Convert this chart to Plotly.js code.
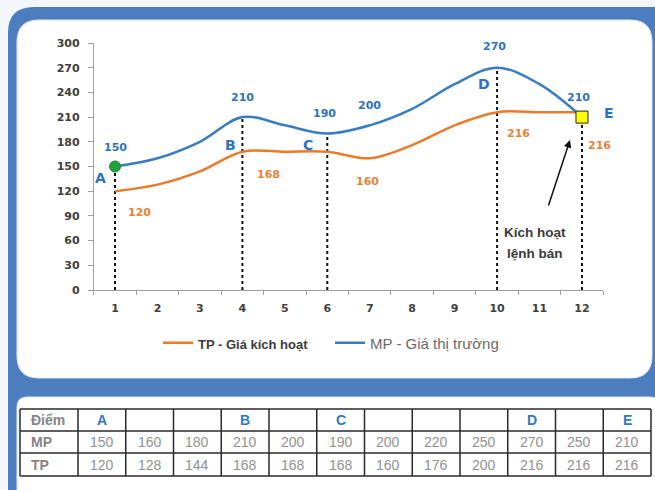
<!DOCTYPE html>
<html><head><meta charset="utf-8">
<script src="https://cdn.plot.ly/plotly-3.0.1.min.js"></script>
<style>html,body{margin:0;padding:0;background:#f3f7fb}#chart{width:655px;height:490px}</style>
</head><body><div id="chart"></div>
<script>
// ---- data ----
const periods = [1,2,3,4,5,6,7,8,9,10,11,12];
const mpValues = [150,160,180,210,200,190,200,220,250,270,250,210];
const tpValues = [120,128,144,168,168,168,160,176,200,216,216,216];
const pointLabels = ['A','','','B','','C','','','','D','','E'];
const yTickValues = [0,30,60,90,120,150,180,210,240,270,300];
const tpName = 'TP - Giá kích hoạt';
const mpName = 'MP - Giá thị trường';
const rowLabels = ['Điểm','MP','TP'];
const signalLines = ['Kích hoạt','lệnh bán'];

// ---- styling / layout helpers ----
const W = 655, H = 490;
const X = px => px / W;
const Y = py => 1 - py / H;
const BLUE = '#3a7cc2', ORANGE = '#ea7b2c', BLUE_TXT = '#2f72bd', ORANGE_TXT = '#e6843a';
const FONT = 'DejaVu Sans, sans-serif';
const SANS = 'Liberation Sans, Arial, sans-serif';

function rr(x0, y0, x1, y1, r) {
  return `M ${X(x0+r)},${Y(y0)} L ${X(x1-r)},${Y(y0)} Q ${X(x1)},${Y(y0)} ${X(x1)},${Y(y0+r)} ` +
    `L ${X(x1)},${Y(y1-r)} Q ${X(x1)},${Y(y1)} ${X(x1-r)},${Y(y1)} L ${X(x0+r)},${Y(y1)} ` +
    `Q ${X(x0)},${Y(y1)} ${X(x0)},${Y(y1-r)} L ${X(x0)},${Y(y0+r)} Q ${X(x0)},${Y(y0)} ${X(x0+r)},${Y(y0)} Z`;
}

// dotted verticals at labelled points
const vx = [], vy = [];
pointLabels.forEach((l, i) => { if (l) { vx.push(periods[i], periods[i], null); vy.push(0, mpValues[i], null); } });

const traces = [
  {x: vx, y: vy, mode: 'lines', line: {color: '#111', width: 2, dash: 'dot'}, showlegend: false, hoverinfo: 'skip'},
  {x: periods, y: tpValues,
   name: '<span style="font-family:Liberation Sans Narrow, Arial Narrow, sans-serif;font-size:13px;font-weight:bold;color:#3c3c3c">' + tpName + '</span>',
   mode: 'lines', line: {color: ORANGE, width: 2.5, shape: 'spline', smoothing: 1}},
  {x: periods, y: mpValues, name: mpName, mode: 'lines',
   line: {color: BLUE, width: 2.5, shape: 'spline', smoothing: 1}},
  {x: [periods[0]], y: [mpValues[0]], mode: 'markers', showlegend: false,
   marker: {color: '#23a040', size: 11, line: {color: '#1c8a35', width: 1}}},
  {x: [periods[11]], y: [mpValues[11]], mode: 'markers', showlegend: false,
   marker: {symbol: 'square', color: '#ffff00', size: 12, line: {color: '#222', width: 1}}}
];

// annotations
const ann = [];
const mpLab = [{i:0,dx:0,dy:19},{i:3,dx:0,dy:20},{i:5,dx:-3,dy:20},{i:6,dx:0,dy:20},{i:9,dx:-3,dy:21},{i:11,dx:-3,dy:20}];
mpLab.forEach(o => ann.push({x: periods[o.i], y: mpValues[o.i], text: String(mpValues[o.i]), showarrow: false,
  xshift: o.dx, yshift: o.dy, font: {family: FONT, size: 11, color: BLUE_TXT, weight: 'bold'}}));
const tpLab = [{i:0,dx:24,dy:-21},{i:4,dx:-16,dy:-23},{i:6,dx:-2,dy:-23},{i:9,dx:21,dy:-21},{i:11,dx:18,dy:-33}];
tpLab.forEach(o => ann.push({x: periods[o.i], y: tpValues[o.i], text: String(tpValues[o.i]), showarrow: false,
  xshift: o.dx, yshift: o.dy, font: {family: FONT, size: 11, color: ORANGE_TXT, weight: 'bold'}}));
const letterPos = {0:[-15,-12], 3:[-12,-28], 5:[-19,-11], 9:[-13,-16], 11:[27,4]};
pointLabels.forEach((l, i) => { if (l) ann.push({x: periods[i], y: mpValues[i], text: '<b>' + l + '</b>', showarrow: false,
  xshift: letterPos[i][0], yshift: letterPos[i][1], font: {family: FONT, size: 14, color: BLUE_TXT}}); });
// arrow to sell trigger
ann.push({x: periods[11], y: mpValues[11], xshift: -12, yshift: -23, ax: -22, ay: 67, text: '', showarrow: true,
  arrowhead: 2, arrowsize: 1, arrowwidth: 1.5, arrowcolor: '#111'});
signalLines.forEach((t, k) => ann.push({x: periods[11], y: mpValues[11], xshift: -47, yshift: -115 - 21 * k,
  text: '<b>' + t + '</b>', showarrow: false, font: {family: SANS, size: 13.5, color: '#3a3a3a'}}));

// ---- table drawn with shapes + annotations ----
const tblLeft = 20, tblRight = 651, firstColW = 58;
const rowEdges = [409, 431, 453, 476];
const colW = (tblRight - tblLeft - firstColW) / periods.length;
const colEdges = [tblLeft, tblLeft + firstColW].concat(periods.map((p, i) => tblLeft + firstColW + colW * (i + 1)));
const tableShapes = [];
rowEdges.forEach(yy => tableShapes.push({type: 'line', xref: 'paper', yref: 'paper', x0: X(tblLeft), x1: X(tblRight),
  y0: Y(yy), y1: Y(yy), line: {color: '#2a2a2a', width: 1.5}}));
colEdges.forEach(xx => tableShapes.push({type: 'line', xref: 'paper', yref: 'paper', x0: X(xx), x1: X(xx),
  y0: Y(rowEdges[0]), y1: Y(rowEdges[3]), line: {color: '#2a2a2a', width: 1.5}}));
const rowMid = k => (rowEdges[k] + rowEdges[k + 1]) / 2;
rowLabels.forEach((t, k) => ann.push({xref: 'paper', yref: 'paper', x: X(tblLeft + 9), y: Y(rowMid(k)), xanchor: 'left',
  yanchor: 'middle', showarrow: false, text: '<b>' + t + '</b>', font: {family: SANS, size: 14, color: '#858585'}}));
periods.forEach((p, i) => {
  const cx = X(colEdges[i + 1] + colW / 2);
  if (pointLabels[i]) ann.push({xref: 'paper', yref: 'paper', x: cx, y: Y(rowMid(0)), xanchor: 'center', yanchor: 'middle',
    showarrow: false, text: '<b>' + pointLabels[i] + '</b>', font: {family: SANS, size: 14, color: '#2f78c4'}});
  ann.push({xref: 'paper', yref: 'paper', x: cx, y: Y(rowMid(1)), xanchor: 'center', yanchor: 'middle', showarrow: false,
    text: String(mpValues[i]), font: {family: SANS, size: 14, color: '#929292'}});
  ann.push({xref: 'paper', yref: 'paper', x: cx, y: Y(rowMid(2)), xanchor: 'center', yanchor: 'middle', showarrow: false,
    text: String(tpValues[i]), font: {family: SANS, size: 14, color: '#929292'}});
});

const layout = {
  width: W, height: H, margin: {l: 0, r: 0, t: 0, b: 0},
  paper_bgcolor: '#f3f7fb', plot_bgcolor: 'rgba(0,0,0,0)',
  font: {family: FONT, color: '#404040'},
  showlegend: true,
  legend: {orientation: 'h', x: X(158), xanchor: 'left', y: Y(343), yanchor: 'middle',
    bgcolor: 'rgba(0,0,0,0)', font: {family: SANS, size: 15, color: '#6a6a6a'},
    itemwidth: 30, traceorder: 'normal', entrywidth: 127, entrywidthmode: 'pixels'},
  xaxis: {domain: [X(93.8), X(603.2)], range: [0.5, 12.5], tickvals: periods, ticks: '',
    showline: true, linecolor: '#a0a0a0', linewidth: 1, showgrid: false, zeroline: false,
    minor: {tick0: 0.5, dtick: 1, ticks: 'outside', ticklen: 4, tickcolor: '#a0a0a0', showgrid: false},
    tickfont: {family: FONT, size: 11, color: '#404040', weight: 'bold'}, ticklabelstandoff: 8},
  yaxis: {domain: [Y(290), Y(43)], range: [0, 300], tickvals: yTickValues, ticks: 'outside', ticklen: 5,
    tickcolor: '#a0a0a0', showline: true, linecolor: '#a0a0a0', linewidth: 1, showgrid: false, zeroline: false,
    tickfont: {family: FONT, size: 11, color: '#404040', weight: 'bold'}, ticklabelstandoff: 6},
  shapes: [
    {type: 'path', xref: 'paper', yref: 'paper', layer: 'below', path: rr(8, 7, 680, 520, 26), fillcolor: '#4b7dbf', line: {width: 0}},
    {type: 'path', xref: 'paper', yref: 'paper', layer: 'below', path: rr(17, 20, 652, 378, 22), fillcolor: '#ffffff', line: {color: '#dfe9f4', width: 1}},
    {type: 'path', xref: 'paper', yref: 'paper', layer: 'below', path: rr(17, 397, 660, 505, 10), fillcolor: '#ffffff', line: {color: '#dfe9f4', width: 1}}
  ].concat(tableShapes),
  annotations: ann
};
Plotly.newPlot('chart', traces, layout, {displayModeBar: false, staticPlot: true});
</script></body></html>
